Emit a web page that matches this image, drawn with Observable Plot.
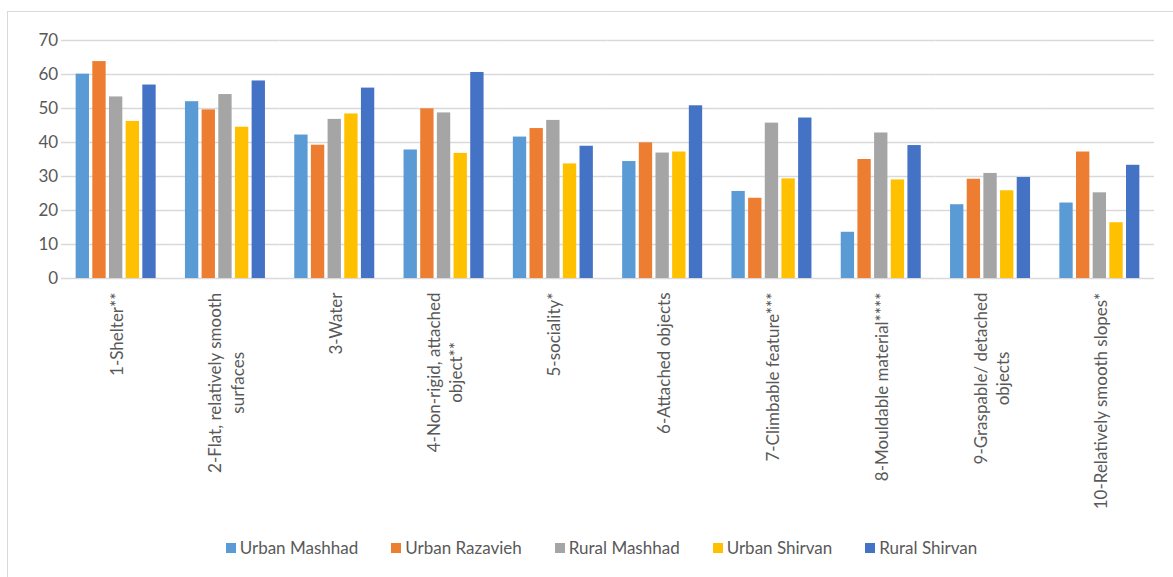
<!DOCTYPE html>
<html><head><meta charset="utf-8">
<script src="https://cdn.jsdelivr.net/npm/d3@7"></script>
<script src="https://cdn.jsdelivr.net/npm/@observablehq/plot@0.6"></script>
<style>
body{margin:0;background:#fff;}
#wrap{position:relative;width:1173px;height:577px;overflow:hidden;font-family:Lato,sans-serif;color:#595959;background:#fff;}
#frame{position:absolute;left:7px;top:11px;width:1200px;height:600px;border:1.5px solid #d9d9d9;box-sizing:border-box;}
#chart{position:absolute;left:0;top:0;}
#legend{position:absolute;top:537px;left:0;width:1203px;display:flex;justify-content:center;align-items:center;font-size:17px;line-height:22px;}
.item{display:flex;align-items:center;margin:0 16.5px;}
.sw{width:10px;height:10px;margin-right:4px;}
</style></head>
<body>
<div id="wrap"><div id="frame"></div><div id="chart"></div><div id="legend"></div></div>
<script>
const categories = ["1-Shelter**", "2-Flat, relatively smooth\nsurfaces", "3-Water", "4-Non-rigid, attached\nobject**", "5-sociality*", "6-Attached objects", "7-Climbable feature***", "8-Mouldable material****", "9-Graspable/ detached\nobjects", "10-Relatively smooth slopes*"];
const seriesNames = ["Urban Mashhad", "Urban Razavieh", "Rural Mashhad", "Urban Shirvan", "Rural Shirvan"];
const urbanMashhad  = [60.1, 52.0, 42.2, 37.8, 41.6, 34.4, 25.6, 13.6, 21.7, 22.2];
const urbanRazavieh = [63.8, 49.6, 39.2, 49.9, 44.1, 39.9, 23.6, 35.0, 29.2, 37.2];
const ruralMashhad  = [53.4, 54.1, 46.8, 48.7, 46.5, 36.9, 45.7, 42.8, 30.9, 25.2];
const urbanShirvan  = [46.2, 44.5, 48.4, 36.8, 33.7, 37.2, 29.3, 29.0, 25.8, 16.4];
const ruralShirvan  = [56.9, 58.1, 56.0, 60.6, 38.9, 50.8, 47.2, 39.1, 29.7, 33.3];
const yTicks = [0, 10, 20, 30, 40, 50, 60, 70];
const colors = ["#5B9BD5", "#ED7D31", "#A5A5A5", "#FFC000", "#4472C4"];

const seriesValues = [urbanMashhad, urbanRazavieh, ruralMashhad, urbanShirvan, ruralShirvan];
const rows = [];
categories.forEach((c, i) => seriesNames.forEach((s, j) => rows.push({cat: c, series: s, value: seriesValues[j][i]})));

const W = 1173, H = 535, ML = 61, MR = 19, MT = 40, MB = H - 278;
const padIn = 0.268;
const step = (W - ML - MR) / categories.length;
const halfGap = step * padIn / 2;
const FS = 17;

const ctx = document.createElement("canvas").getContext("2d");
ctx.font = `${FS}px Lato`;

const labelMarks = categories.map(c => {
  const w = ctx.measureText(c.split("\n")[0]).width;
  return Plot.text([c], {fx: d => d, text: d => d, frameAnchor: "bottom", rotate: -90,
    textAnchor: "middle", lineAnchor: "middle", lineHeight: 1.3, dy: 14 + w / 2,
    fontSize: FS, fill: "#595959"});
});

const chart = Plot.plot({
  width: W, height: H,
  marginLeft: ML, marginRight: MR, marginTop: MT, marginBottom: MB,
  style: {fontFamily: "Lato, sans-serif", fontSize: FS + "px", color: "#595959", background: "transparent"},
  fx: {domain: categories, paddingInner: padIn, paddingOuter: padIn / 2, round: false, axis: null, label: null},
  x: {domain: seriesNames, paddingInner: 0.2, paddingOuter: 0, round: false, axis: null},
  y: {domain: [0, 70], ticks: yTicks, tickSize: 0, tickPadding: 18, label: null},
  color: {domain: seriesNames, range: colors},
  marks: [
    Plot.ruleY(yTicks, {stroke: "#d9d9d9", strokeWidth: 1.3, insetLeft: -halfGap, insetRight: -halfGap}),
    Plot.barY(rows, {fx: "cat", x: "series", y: "value", fill: "series"}),
    ...labelMarks
  ]
});
document.getElementById("chart").appendChild(chart);

const legend = document.getElementById("legend");
seriesNames.forEach((s, j) => {
  const it = document.createElement("div"); it.className = "item";
  const sw = document.createElement("div"); sw.className = "sw"; sw.style.background = colors[j];
  const tx = document.createElement("span"); tx.textContent = s;
  it.appendChild(sw); it.appendChild(tx); legend.appendChild(it);
});
</script>
</body></html>
